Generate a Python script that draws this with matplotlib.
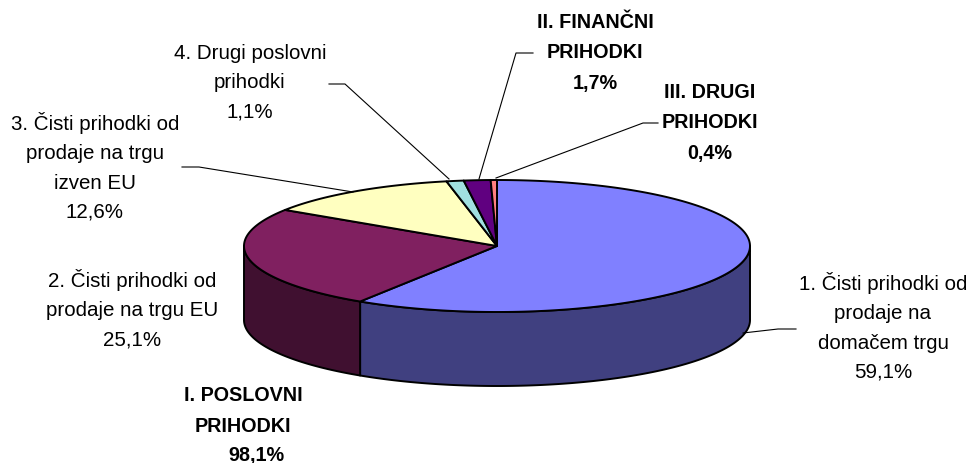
import numpy as np
import matplotlib
matplotlib.use("Agg")
import matplotlib.pyplot as plt

plt.rcParams["font.family"] = ["Liberation Sans", "DejaVu Sans"]

# shares in %, clockwise from the top
slice_names = ["1. Čisti prihodki od\nprodaje na\ndomačem trgu",
               "2. Čisti prihodki od\nprodaje na trgu EU",
               "3. Čisti prihodki od\nprodaje na trgu\nizven EU",
               "4. Drugi poslovni\nprihodki",
               "II. FINANČNI\nPRIHODKI",
               "III. DRUGI\nPRIHODKI"]
slice_values = [59.1, 25.1, 12.6, 1.1, 1.7, 0.4]
slice_colors = ["#8080FF", "#802060", "#FFFFC0", "#A0E0E0", "#600080", "#FF8080"]
side_colors = ["#404080", "#401030", "#808060", "#508080", "#300040", "#804040"]

group_name = "I. POSLOVNI\nPRIHODKI"
group_value = "98,1%"

cx, cy = 497, 246
rx, ry = 253, 66
depth = 74

fig = plt.figure(figsize=(9.7, 4.63), dpi=100)
ax = fig.add_axes([0, 0, 1, 1])
ax.set_xlim(0, 970)
ax.set_ylim(463, 0)
ax.axis("off")


def rim(t1, t2, dy=0):
    t = np.radians(np.linspace(t1, t2, 200))
    return cx + rx * np.sin(t), cy + dy - ry * np.cos(t)


edges = np.concatenate([[0], np.cumsum(slice_values)]) / sum(slice_values) * 360

# side wall, only the front half shows
for i in range(len(slice_values)):
    t1 = max(edges[i], 90)
    t2 = min(edges[i + 1], 270)
    if t2 <= t1:
        continue
    x, y = rim(t1, t2)
    x2, y2 = rim(t2, t1, depth)
    ax.fill(np.r_[x, x2], np.r_[y, y2], fc=side_colors[i], ec="black", lw=1.4, joinstyle="round")

# top face
for i in range(len(slice_values)):
    x, y = rim(edges[i], edges[i + 1])
    ax.fill(np.r_[cx, x], np.r_[cy, y], fc=slice_colors[i], ec="black", lw=1.4, joinstyle="round")

# leader lines
leaders = [([796, 778, 743], [329, 329, 333]),
           ([182, 199, 353], [167, 167, 192]),
           ([329, 345, 449], [84, 84, 179]),
           ([533, 516, 479], [53, 53, 179]),
           ([658, 643, 496], [123, 123, 178])]
for lx, ly in leaders:
    ax.plot(lx, ly, color="black", lw=0.8)

label_pos = [(883, 327), (132, 309), (95, 167), (250, 83), (595, 53), (710, 123)]
for i in range(len(slice_values)):
    bold = slice_names[i].isupper()
    pct = f"{slice_values[i]:.1f}%".replace(".", ",")
    ax.text(label_pos[i][0], label_pos[i][1], slice_names[i] + "\n" + pct,
            ha="center", va="center", fontsize=14.2 if bold else 14.8,
            linespacing=1.75 if bold else 1.675,
            fontweight="bold" if bold else "normal")

ax.text(243, 411, group_name, ha="center", va="center",
        fontsize=14.2, linespacing=1.75, fontweight="bold")
ax.text(256, 455, group_value, ha="center", va="center",
        fontsize=14.2, fontweight="bold")

fig.savefig("out.png", dpi=100)
